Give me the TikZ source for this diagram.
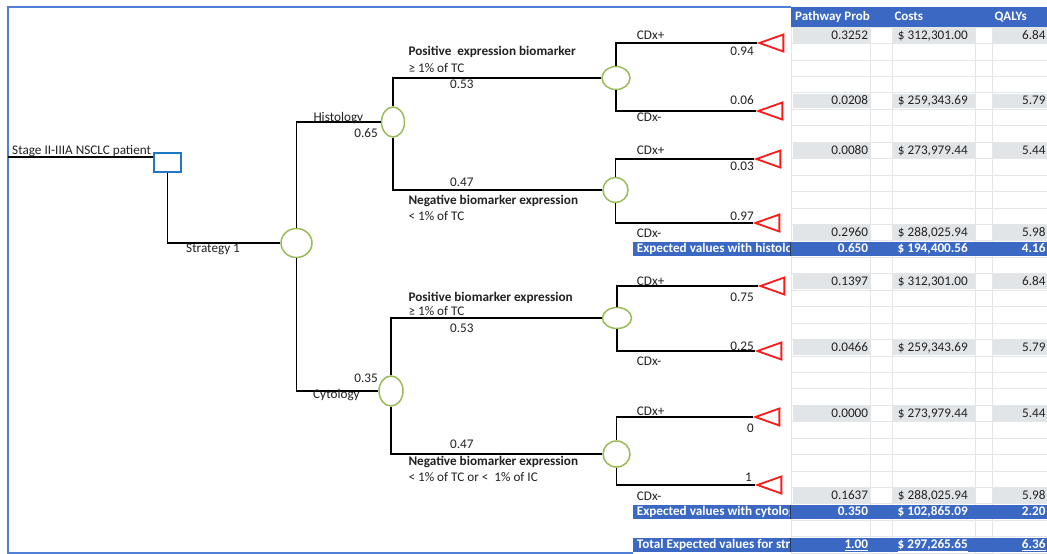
\documentclass[tikz,border=0pt]{standalone}
\usepackage{fontspec}
\setmainfont{Carlito}
\usetikzlibrary{shapes.geometric}
\definecolor{frameblue}{HTML}{4F7FD6}
\definecolor{barblue}{HTML}{3A68C2}
\definecolor{chance}{HTML}{9BBB59}
\definecolor{decblue}{HTML}{1F77C8}
\definecolor{termred}{HTML}{FF1A1A}
\definecolor{cellgray}{HTML}{E2E5E8}
\definecolor{gridgray}{HTML}{E4E6E8}
\definecolor{txt}{HTML}{222222}
\definecolor{divider}{HTML}{2B3A55}
\begin{document}
\begin{tikzpicture}[x=1pt,y=-1pt,
  branch/.style={draw=black,line width=1.8pt},
  chancenode/.style={ellipse,draw=chance,line width=1.5pt,fill=white,inner sep=0pt},
  decnode/.style={rectangle,draw=decblue,line width=1.4pt,fill=white,minimum width=27pt,minimum height=19pt,inner sep=0pt},
  termnode/.style={isosceles triangle,isosceles triangle stretches,draw=termred,line width=1.8pt,fill=white,minimum width=17pt,minimum height=24pt,inner sep=0pt,rotate=180,anchor=apex},
  lbl/.style={font=\fontsize{13.2}{14}\selectfont,text=txt,inner sep=0pt},
  lblb/.style={font=\fontsize{13.2}{14}\selectfont\bfseries,text=txt,inner sep=0pt},
  cell/.style={font=\fontsize{13.2}{14}\selectfont,text=txt,inner sep=0pt,anchor=base east},
  barcell/.style={font=\fontsize{13.2}{14}\selectfont\bfseries,text=white,inner sep=0pt,anchor=base east},
  headcell/.style={font=\fontsize{13}{14}\selectfont\bfseries,text=white,inner sep=0pt,anchor=base west}
]
\useasboundingbox (0,0) rectangle (1047,554);
\fill[white] (0,0) rectangle (1047,554);

% ---------- table grid ----------
\foreach \k in {0,...,32}{
  \pgfmathsetmacro\yy{27+\k*16.44}
  \draw[gridgray,line width=0.6pt] (791,\yy) -- (1047,\yy);
}
\foreach \xx in {791,870,892,975,992}{
  \draw[gridgray,line width=0.6pt] (\xx,27) -- (\xx,553);
}
% grey data cells
\foreach \r in {1,5,8,13,16,20,24,29}{
  \pgfmathsetmacro\yt{27+(\r-1)*16.44+0.8}
  \pgfmathsetmacro\yb{27+\r*16.44-0.8}
  \fill[cellgray] (793,\yt) rectangle (869.5,\yb);
  \fill[cellgray] (892.5,\yt) rectangle (974.5,\yb);
  \fill[cellgray] (992.5,\yt) rectangle (1047,\yb);
}
% header
\fill[barblue] (791,7) rectangle (1047,27);
\node[headcell] (hprob) at (795,20.7) {Pathway Prob};
\node[headcell] (hcost) at (894.3,20.7) {Costs};
\node[headcell] (hqaly) at (994.3,20.7) {QALYs};

% data values
\foreach \r/\p/\c/\q in {1/0.3252/{312,301.00}/6.84, 5/0.0208/{259,343.69}/5.79, 8/0.0080/{273,979.44}/5.44, 13/0.2960/{288,025.94}/5.98, 16/0.1397/{312,301.00}/6.84, 20/0.0466/{259,343.69}/5.79, 24/0.0000/{273,979.44}/5.44, 29/0.1637/{288,025.94}/5.98}{
  \pgfmathsetmacro\yb{27+(\r-0.5)*16.44+3.8}
  \node[cell] (p\r) at (868.3,\yb) {\p};
  \node[cell] (c\r) at (968,\yb) {\$ \c};
  \node[cell] (q\r) at (1045.7,\yb) {\q};
}

% bars
\foreach \r/\t in {14/Expected values with histology, 30/Expected values with cytology, 32/Total Expected values for strategy 1}{
  \pgfmathsetmacro\yt{27+(\r-1)*16.44+1.2}
  \pgfmathsetmacro\yb{27+\r*16.44-0.8}
  \pgfmathsetmacro\ybase{27+(\r-0.5)*16.44+4.0}
  \fill[barblue] (633,\yt) rectangle (1047,\yb);
  \begin{scope}
    \clip (633,\yt) rectangle (790,\yb);
    \node[lblb,text=white,anchor=base west] (bl\r) at (636.7,\ybase) {\t};
  \end{scope}
  \draw[divider,line width=1.2pt] (790.5,\yt) -- (790.5,\yb);
}
\pgfmathsetmacro\yA{27+13.5*16.44+4.0}
\node[barcell] (p14) at (868.3,\yA) {0.650};
\node[barcell] (c14) at (968,\yA) {\$ 194,400.56};
\node[barcell] (q14) at (1045.7,\yA) {4.16};
\pgfmathsetmacro\yB{27+29.5*16.44+4.0}
\node[barcell] (p30) at (868.3,\yB) {0.350};
\node[barcell] (c30) at (968,\yB) {\$ 102,865.09};
\node[barcell] (q30) at (1045.7,\yB) {2.20};
\pgfmathsetmacro\yC{27+31.5*16.44+3.4}
\node[barcell] (p32) at (868.3,\yC) {\underline{1.00}};
\node[barcell] (c32) at (968,\yC) {\underline{\$ 297,265.65}};
\node[barcell] (q32) at (1045.7,\yC) {\underline{6.36}};

% ---------- frame ----------
\draw[frameblue,line width=1.5pt] (633,553) -- (8,553) -- (8,7) -- (791,7);

% ---------- tree nodes ----------
\coordinate (start) at (8,157);
\node[decnode] (dec) at (167.5,162.5) {};
\node[chancenode,minimum width=31pt,minimum height=29pt] (c0) at (296.5,243) {};
\node[chancenode,minimum width=23pt,minimum height=30pt] (hist) at (393,122) {};
\node[chancenode,minimum width=24pt,minimum height=30pt] (cyto) at (391,391) {};
\node[chancenode,minimum width=28pt,minimum height=23pt] (hpos) at (616,78) {};
\node[chancenode,minimum width=25pt,minimum height=25pt] (hneg) at (615.5,190) {};
\node[chancenode,minimum width=29pt,minimum height=21pt] (cpos) at (617,318) {};
\node[chancenode,minimum width=27pt,minimum height=26pt] (cneg) at (616.5,454) {};
\node[termnode] (t1) at (757,43) {};
\node[termnode] (t2) at (756,111) {};
\node[termnode] (t3) at (754,159) {};
\node[termnode] (t4) at (753,223) {};
\node[termnode] (t5) at (758,286) {};
\node[termnode] (t6) at (755,351) {};
\node[termnode] (t7) at (753,417) {};
\node[termnode] (t8) at (755,485) {};

% ---------- connectors ----------
\draw[branch] (start) -- (start -| dec.west);
\draw[branch] (dec.south) |- (c0.west);
\draw[branch] (c0.north) |- (hist.west);
\draw[branch] (c0.south) |- (cyto.west);
\draw[branch] (hist.north) |- (hpos.west);
\draw[branch] (hist.south) |- (hneg.west);
\draw[branch] (cyto.north) |- (cpos.west);
\draw[branch] (cyto.south) |- (cneg.west);
\draw[branch] (hpos.north) |- (t1.apex);
\draw[branch] (hpos.south) |- (t2.apex);
\draw[branch] (hneg.north) |- (t3.apex);
\draw[branch] (hneg.south) |- (t4.apex);
\draw[branch] (cpos.north) |- (t5.apex);
\draw[branch] (cpos.south) |- (t6.apex);
\draw[branch] (cneg.north) |- (t7.apex);
\draw[branch] (cneg.south) |- (t8.apex);

% ---------- tree labels ----------
\node[lbl,anchor=base west] (lroot) at (12,154.5) {Stage II-IIIA NSCLC patient};
\node[lbl,anchor=base west] (lstrat) at (186,252.3) {Strategy 1};
\node[lbl,anchor=base west] (lhist) at (313.3,121.5) {Histology};
\node[lbl,anchor=base east] (phist) at (378,137.7) {0.65};
\node[lbl,anchor=base west] (lcyto) at (313,398.5) {Cytology};
\node[lbl,anchor=base east] (pcyto) at (378,382.3) {0.35};

\node[lblb,anchor=base west] (lhp) at (408.3,55.7) {Positive~ expression biomarker};
\node[lbl,anchor=base west] (lhp2) at (408.3,72.3) {≥ 1\% of TC};
\node[lbl,anchor=base west] (php) at (450,88.3) {0.53};
\node[lbl,anchor=base west] (phn) at (450,186.7) {0.47};
\node[lblb,anchor=base west] (lhn) at (408.3,204) {Negative biomarker expression};
\node[lbl,anchor=base west] (lhn2) at (408.3,220.7) {< 1\% of TC};

\node[lblb,anchor=base west] (lcp) at (408.3,301) {Positive biomarker expression};
\node[lbl,anchor=base west] (lcp2) at (408.3,315.7) {≥ 1\% of TC};
\node[lbl,anchor=base west] (pcp) at (450,332.3) {0.53};
\node[lbl,anchor=base west] (pcn) at (450,448.3) {0.47};
\node[lblb,anchor=base west] (lcn) at (408.3,465.7) {Negative biomarker expression};
\node[lbl,anchor=base west] (lcn2) at (408.3,481.7) {< 1\% of TC or <~ 1\% of IC};

\node[lbl,anchor=base west] (a1) at (636.7,39.3) {CDx+};
\node[lbl,anchor=base east] (b1) at (754,55.7) {0.94};
\node[lbl,anchor=base east] (b2) at (754,104.7) {0.06};
\node[lbl,anchor=base west] (a2) at (636.7,121.3) {CDx-};
\node[lbl,anchor=base west] (a3) at (636.7,154) {CDx+};
\node[lbl,anchor=base east] (b3) at (754,170) {0.03};
\node[lbl,anchor=base east] (b4) at (754,220) {0.97};
\node[lbl,anchor=base west] (a4) at (636.7,237.7) {CDx-};
\node[lbl,anchor=base west] (a5) at (636.7,285) {CDx+};
\node[lbl,anchor=base east] (b5) at (754,301) {0.75};
\node[lbl,anchor=base east] (b6) at (754,350) {0.25};
\node[lbl,anchor=base west] (a6) at (636.7,365.7) {CDx-};
\node[lbl,anchor=base west] (a7) at (636.7,415.7) {CDx+};
\node[lbl,anchor=base east] (b7) at (754,432.3) {0};
\node[lbl,anchor=base east] (b8) at (752,481.7) {1};
\node[lbl,anchor=base west] (a8) at (636.7,500) {CDx-};
\end{tikzpicture}
\end{document}
